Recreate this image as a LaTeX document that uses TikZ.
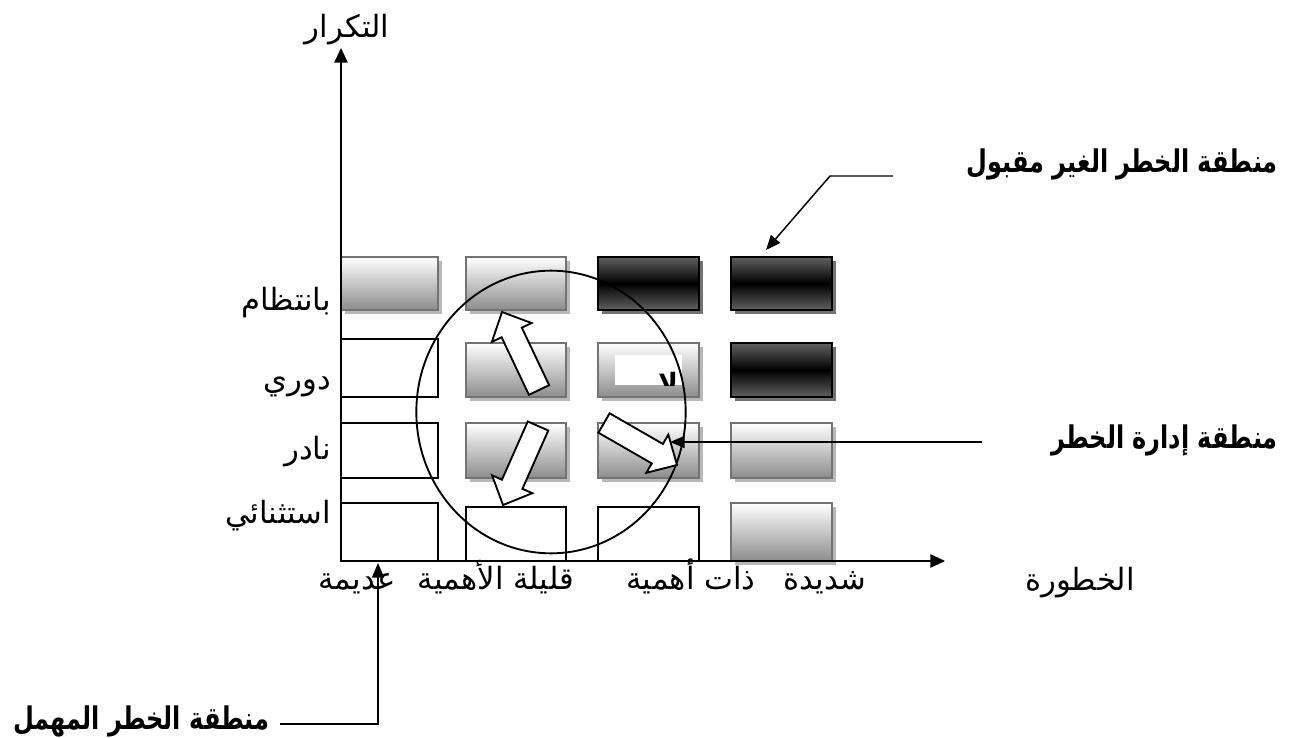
\documentclass[tikz,border=0pt]{standalone}
\usepackage{fontspec}
\usetikzlibrary{arrows.meta,calc,fit,shadows,shapes.geometric}
\newfontfamily\arabicfont[Script=Arabic]{DejaVu Sans}
\TeXXeTstate=1

% a hollow block arrow from a tail coordinate to a tip coordinate
\newcommand\blockarrow[2]{%
  \coordinate (#2-h) at ($(#2)!17pt!(#1)$);
  \draw[blockarr] ($(#1)!8.4pt!90:(#2)$) -- ($(#2-h)!8.4pt!90:(#2)$)
    -- ($(#2-h)!16.5pt!90:(#2)$) -- (#2) -- ($(#2-h)!16.5pt!-90:(#2)$)
    -- ($(#2-h)!8.4pt!-90:(#2)$) -- ($(#1)!8.4pt!-90:(#2)$) -- cycle;}

% bold zone titles, set a little taller than the font draws them
\newcommand\zonetitle[1]{\scalebox{1}[1.3]{\beginR #1\endR}}

\tikzset{
  lightcell/.style={draw=black!55, line width=1.3pt, inner sep=0pt,
    top color=white, bottom color=black!45,
    drop shadow={shadow xshift=3pt, shadow yshift=-3pt, fill=black!28, opacity=1}},
  darkcell/.style={draw=black, line width=1.5pt, inner sep=0pt,
    top color=black!62, bottom color=black!62, middle color=black,
    drop shadow={shadow xshift=3pt, shadow yshift=-3pt, fill=black!55, opacity=1}},
  whitecell/.style={draw=black, line width=1.2pt, fill=white, inner sep=0pt},
  blockarr/.style={draw=black, line width=1.4pt, fill=white, line join=miter},
  axis/.style={line width=1.3pt, -{Triangle[length=11pt,width=10pt]}},
  leader/.style={line width=1.1pt, -{Triangle[length=11pt,width=9pt]}},
  lbl/.style={font=\arabicfont\fontsize{23}{26}\selectfont, inner sep=0pt},
  blbl/.style={font=\arabicfont\bfseries\fontsize{18}{21}\selectfont, inner sep=0pt}
}

\begin{document}
\begin{tikzpicture}[x=0.75pt,y=-0.75pt]
\useasboundingbox (0,0) rectangle (1292,738);

% axes
\coordinate (O) at (341,561);
\coordinate (ytip) at (341,48);
\coordinate (xtip) at (945,561);

% row 1 (top)
\node[lightcell, fit={(341,257)(438,310)}] (r1c1) {};
\node[lightcell, fit={(466,257)(566,310)}] (r1c2) {};
\node[darkcell, fit={(598,257)(699,310)}] (r1c3) {};
\node[darkcell, fit={(731,257)(832,310)}] (r1c4) {};
% row 2
\node[whitecell, fit={(341,339)(438,397)}] (r2c1) {};
\node[lightcell, fit={(466,343)(566,397)}] (r2c2) {};
\node[lightcell, fit={(598,343)(699,397)}] (r2c3) {};
\node[darkcell, fit={(731,343)(832,397)}] (r2c4) {};
\node[fill=white, inner sep=0pt, fit={(615,355)(682,385)}] (mark) {};
\begin{scope}
  \clip (615,355) rectangle (682,385);
  \node[font=\arabicfont\bfseries\fontsize{20}{22}\selectfont, inner sep=0pt, anchor=base] (markx) at (668,392) {\beginR لا\endR};
\end{scope}
% row 3
\node[whitecell, fit={(341,423)(438,478)}] (r3c1) {};
\node[lightcell, fit={(466,423)(566,478)}] (r3c2) {};
\node[lightcell, fit={(598,423)(699,478)}] (r3c3) {};
\node[lightcell, fit={(731,423)(832,478)}] (r3c4) {};
% row 4
\node[whitecell, fit={(341,503)(438,561)}] (r4c1) {};
\node[whitecell, fit={(466,507)(566,561)}] (r4c2) {};
\node[whitecell, fit={(598,507)(699,561)}] (r4c3) {};
\node[lightcell, fit={(731,503)(832,561)}] (r4c4) {};

\draw[axis] (O) -- (ytip);
\draw[axis] (O) -- (xtip);

% risk management zone
\node[draw, ellipse, line width=1.4pt, minimum width=202pt, minimum height=212pt, inner sep=0pt] (zone) at (551,412) {};

% movement arrows inside the zone
\coordinate (a1t) at (539,390); \coordinate (a1p) at (502,312);
\coordinate (a2t) at (538,426); \coordinate (a2p) at (503,505);
\coordinate (a3t) at (604,423); \coordinate (a3p) at (677,465);
\blockarrow{a1t}{a1p}
\blockarrow{a2t}{a2p}
\blockarrow{a3t}{a3p}

% axis titles
\node[lbl, anchor=base] (ylab) at (347,38) {\beginR التكرار\endR};
\node[lbl, anchor=base] (xlab) at (1080,590) {\beginR الخطورة\endR};

% frequency levels
\node[lbl, anchor=base east] (f1) at (331,310) {\beginR بانتظام\endR};
\node[lbl, anchor=base east] (f2) at (331,389) {\beginR دوري\endR};
\node[lbl, anchor=base east] (f3) at (331,459) {\beginR نادر\endR};
\node[lbl, anchor=base east] (f4) at (331,523) {\beginR استثنائي\endR};

% severity levels
\node[lbl, anchor=base] (s1) at (357,589) {\beginR عديمة\endR};
\node[lbl, anchor=base] (s2) at (496,589) {\beginR قليلة الأهمية\endR};
\node[lbl, anchor=base] (s3) at (691,589) {\beginR ذات أهمية\endR};
\node[lbl, anchor=base] (s4) at (825,589) {\beginR شديدة\endR};

% zone labels and their leaders
\node[blbl, anchor=base east] (zTop) at (1278,173) {\zonetitle{منطقة الخطر الغير مقبول}};
\node[blbl, anchor=base east] (zMid) at (1278,448) {\zonetitle{منطقة إدارة الخطر}};
\node[blbl, anchor=base west] (zLow) at (13,729) {\zonetitle{منطقة الخطر المهمل}};

\coordinate (t1) at (893,176); \coordinate (t2) at (830,176); \coordinate (t3) at (766,250);
\draw[leader] (t1) -- (t2) -- (t3);
\coordinate (m1) at (982,442); \coordinate (m2) at (670,442);
\draw[leader] (m1) -- (m2);
\coordinate (b1) at (280,724); \coordinate (b2) at (378,724); \coordinate (b3) at (378,563);
\draw[leader] (b1) -- (b2) -- (b3);
\end{tikzpicture}
\end{document}
